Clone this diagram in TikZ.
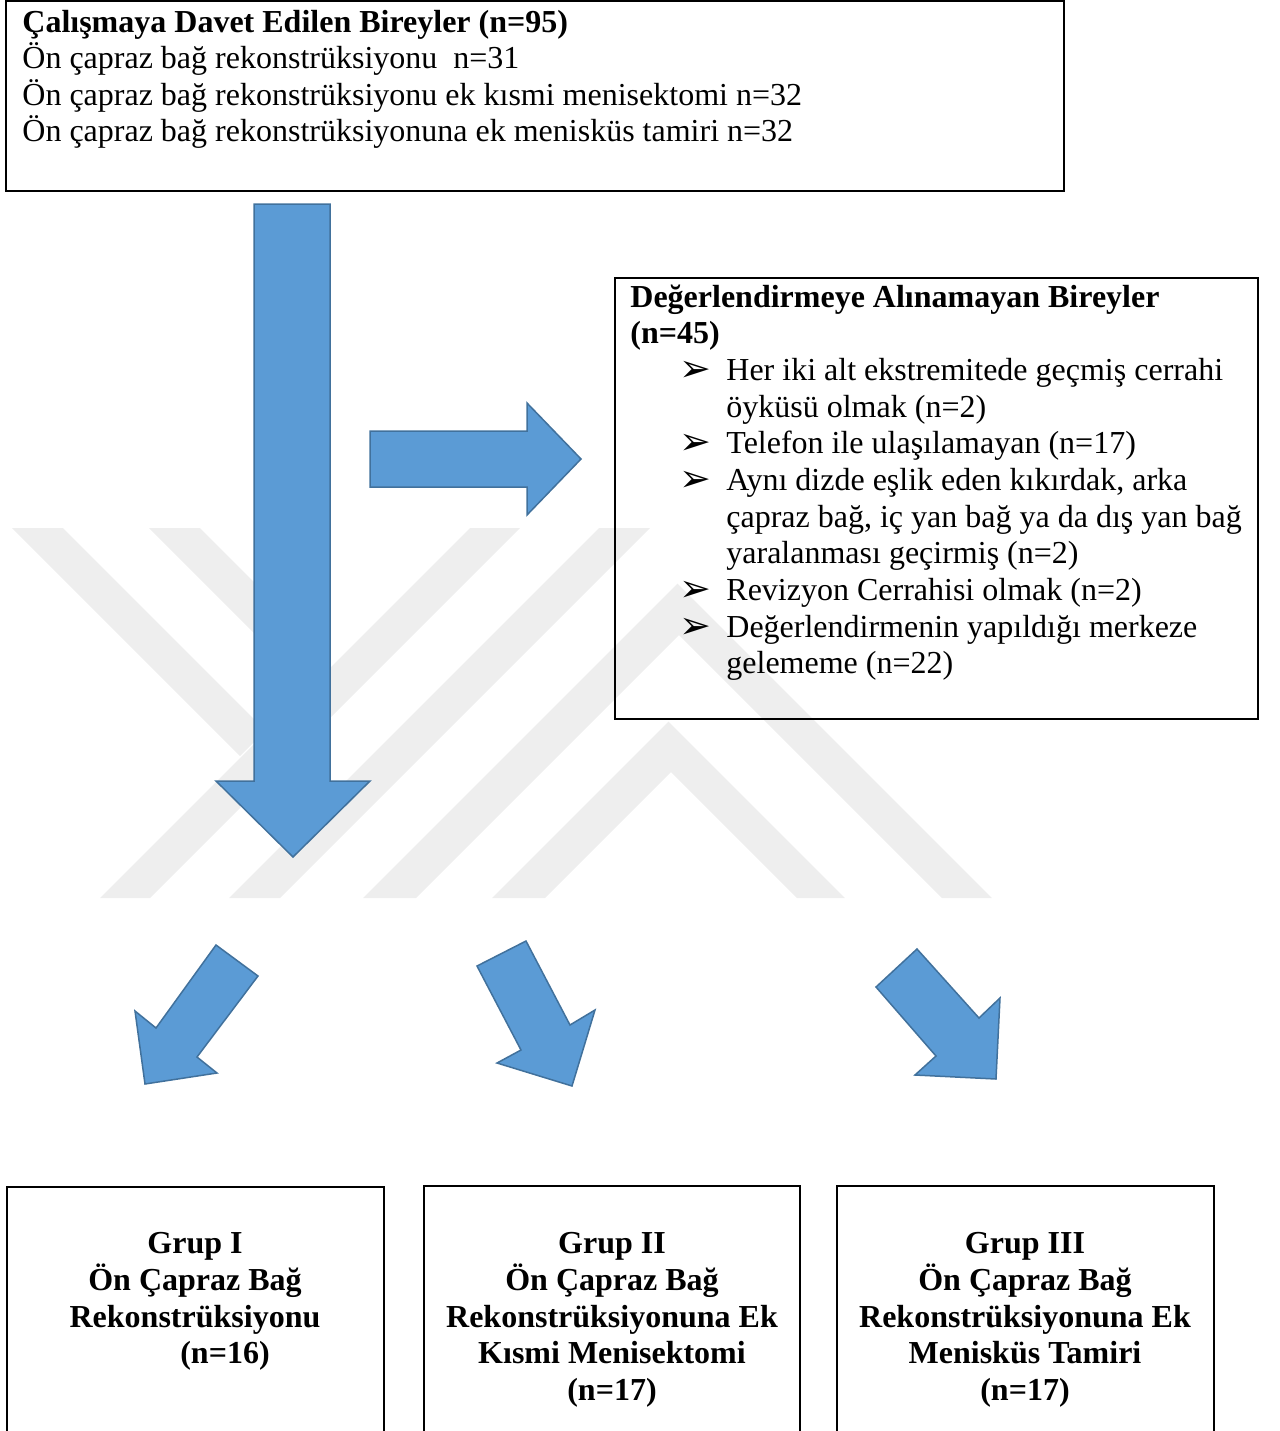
\documentclass[tikz,border=0pt]{standalone}
\usepackage{fontspec}
\setmainfont{Liberation Serif}
\newfontfamily\symfont{DejaVu Sans}
\definecolor{arrowblue}{RGB}{91,155,213}
\definecolor{arrowedge}{RGB}{65,113,156}
\definecolor{wmgray}{RGB}{238,238,238}
\tikzset{
  txt/.style={anchor=base west, inner sep=0pt, font=\fontsize{16}{18.25}\selectfont},
  btxt/.style={txt, font=\fontsize{16}{18.25}\selectfont\bfseries},
  ctxt/.style={anchor=base, inner sep=0pt, font=\fontsize{16}{18.25}\selectfont\bfseries},
  bul/.style={anchor=base west, inner sep=0pt, font=\fontsize{19}{20}\symfont},
  blockarrow/.style={fill=arrowblue, draw=arrowedge, line width=0.75pt, line join=miter},
  framebox/.style={draw=black, line width=1pt},
  wmark/.style={fill=wmgray, draw=none}
}
\begin{document}
\begin{tikzpicture}[x=0.5pt,y=0.5pt,yscale=-1,xscale=1]
\useasboundingbox (0,0) rectangle (1280,1431);

%Shape: Watermark bands
\fill[wmark] (12,528) -- (63,528) -- (265.5,730.5) -- (240,756) -- cycle;
\fill[wmark] (100,898) -- (150,898) -- (520,528) -- (470,528) -- cycle;
\fill[wmark] (149,528) -- (200,528) -- (320,648) -- (320,699) -- cycle;
\fill[wmark] (229,898) -- (280,898) -- (650,528) -- (599,528) -- cycle;
\fill[wmark] (363,898) -- (677.5,583.5) -- (992,898) -- (942,898) -- (679,635) -- (416,898) -- cycle;
\fill[wmark] (492,898) -- (668.5,721.5) -- (845,898) -- (797,898) -- (671,772) -- (545,898) -- cycle;

%Shape: Rectangle
\draw[framebox] (6,1) rectangle (1064,191);
%Shape: Rectangle
\draw[framebox] (615,278) rectangle (1258,719);
%Shape: Rectangle
\draw[framebox] (7,1187) rectangle (384,1445);
%Shape: Rectangle
\draw[framebox] (424,1186) rectangle (800,1445);
%Shape: Rectangle
\draw[framebox] (837,1186) rectangle (1214,1445);

%Shape: Down Arrow
\draw[blockarrow] (254,204) -- (330,204) -- (330,781) -- (370,781) -- (293,857) -- (216,781) -- (254,781) -- cycle;
%Shape: Right Arrow
\draw[blockarrow] (370,431) -- (527,431) -- (527,403) -- (581,459) -- (527,515) -- (527,487) -- (370,487) -- cycle;
%Shape: Bent Arrows to groups
\draw[blockarrow] (216,945) -- (258,976) -- (197,1057) -- (217,1073) -- (145,1084) -- (135,1011) -- (156,1028) -- cycle;
\draw[blockarrow] (477,966) -- (526,941) -- (570,1025) -- (595,1010) -- (572,1086) -- (497,1063) -- (521,1050) -- cycle;
\draw[blockarrow] (876,987) -- (917,949) -- (979,1018) -- (1000,998) -- (996,1079) -- (915,1075) -- (936,1056) -- cycle;

% Text Node
\draw (22,32) node [btxt] (invTitle) {Çalışmaya Davet Edilen Bireyler (n=95)};
% Text Node
\draw (22,68.5) node [txt] (invA) {Ön çapraz bağ rekonstrüksiyonu~ n=31};
% Text Node
\draw (22,105) node [txt] (invB) {Ön çapraz bağ rekonstrüksiyonu ek kısmi menisektomi n=32};
% Text Node
\draw (22,141.5) node [txt] (invC) {Ön çapraz bağ rekonstrüksiyonuna ek menisküs tamiri n=32};

% Text Node
\draw (630,307) node [btxt] (excTitle) {Değerlendirmeye Alınamayan Bireyler};
% Text Node
\draw (630,343.5) node [btxt] (excN) {(n=45)};
% Text Node
\draw (679,381) node [bul] (bulA) {➢};
\draw (726,380) node [txt] (excA) {Her iki alt ekstremitede geçmiş cerrahi};
\draw (726,417) node [txt] (excAb) {öyküsü olmak (n=2)};
% Text Node
\draw (679,454) node [bul] (bulB) {➢};
\draw (726,453) node [txt] (excB) {Telefon ile ulaşılamayan (n=17)};
% Text Node
\draw (679,491) node [bul] (bulC) {➢};
\draw (726,490) node [txt] (excC) {Aynı dizde eşlik eden kıkırdak, arka};
\draw (726,527) node [txt] (excCb) {çapraz bağ, iç yan bağ ya da dış yan bağ};
\draw (726,563) node [txt] (excCc) {yaralanması geçirmiş (n=2)};
% Text Node
\draw (679,601) node [bul] (bulD) {➢};
\draw (726,600) node [txt] (excD) {Revizyon Cerrahisi olmak (n=2)};
% Text Node
\draw (679,638) node [bul] (bulE) {➢};
\draw (726,637) node [txt] (excE) {Değerlendirmenin yapıldığı merkeze};
\draw (726,673) node [txt] (excEb) {gelememe (n=22)};

% Text Node
\draw (195,1253) node [ctxt] (g1a) {Grup I};
\draw (195,1290) node [ctxt] (g1b) {Ön Çapraz Bağ};
\draw (195,1327) node [ctxt] (g1c) {Rekonstrüksiyonu};
\draw (225,1363) node [ctxt] (g1d) {(n=16)};
% Text Node
\draw (612,1253) node [ctxt] (g2a) {Grup II};
\draw (612,1290) node [ctxt] (g2b) {Ön Çapraz Bağ};
\draw (612,1327) node [ctxt] (g2c) {Rekonstrüksiyonuna Ek};
\draw (612,1363) node [ctxt] (g2d) {Kısmi Menisektomi};
\draw (612,1400) node [ctxt] (g2e) {(n=17)};
% Text Node
\draw (1025,1253) node [ctxt] (g3a) {Grup III};
\draw (1025,1290) node [ctxt] (g3b) {Ön Çapraz Bağ};
\draw (1025,1327) node [ctxt] (g3c) {Rekonstrüksiyonuna Ek};
\draw (1025,1363) node [ctxt] (g3d) {Menisküs Tamiri};
\draw (1025,1400) node [ctxt] (g3e) {(n=17)};

\end{tikzpicture}
\end{document}
